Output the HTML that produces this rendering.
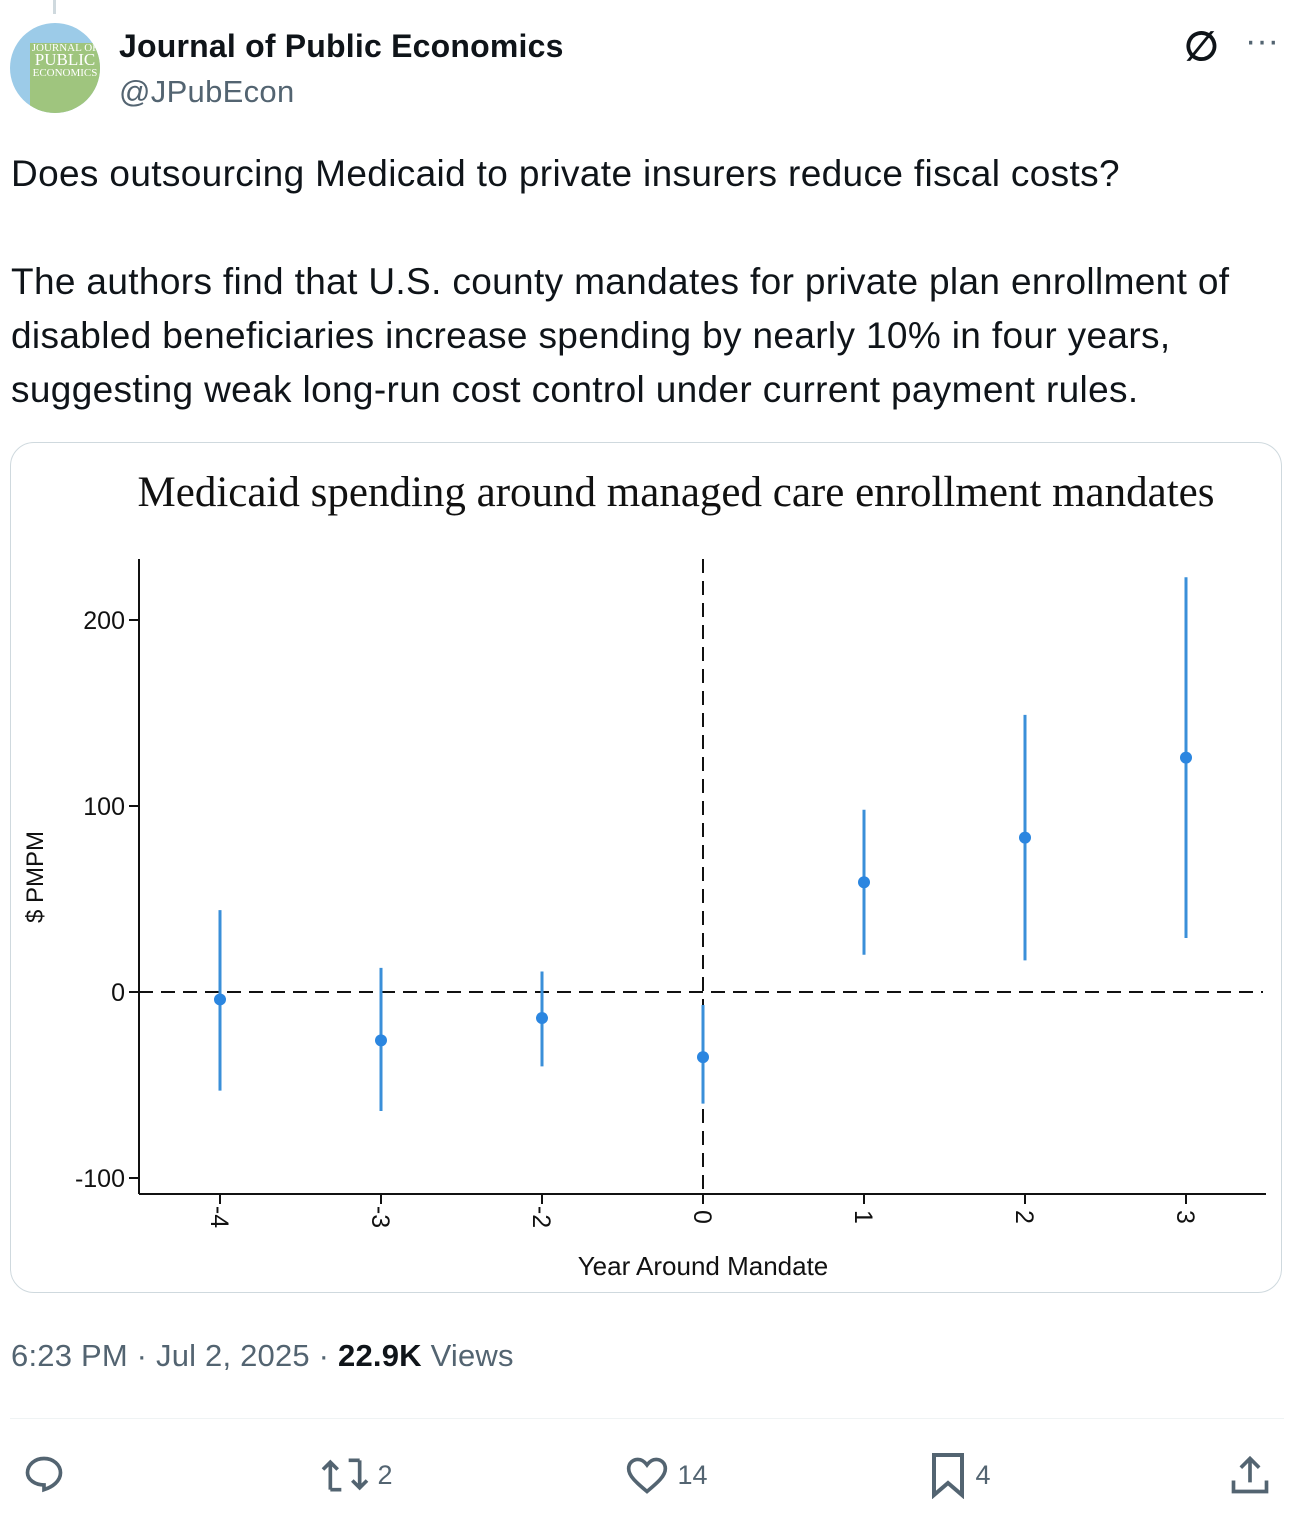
<!DOCTYPE html>
<html><head><meta charset="utf-8">
<style>
body{margin:0;width:1310px;height:1517px;background:#fff;font-family:"Liberation Sans",sans-serif;color:#0f1419;position:relative;overflow:hidden}
.abs{position:absolute}
.txt{font-size:37px;letter-spacing:0.35px;line-height:54px;left:11px;width:1300px;white-space:nowrap}
.act{position:absolute;top:1450px;height:50px;display:flex;align-items:center;color:#536471;font-size:27px}
</style></head><body>
<div class="abs" style="left:53px;top:0;width:3px;height:14px;background:#cfd9de"></div>
<div class="abs" style="left:10px;top:23px;width:90px;height:90px;border-radius:50%;overflow:hidden;background:#9ccbe8">
 <div style="position:absolute;left:20px;top:20px;width:70px;height:70px;background:#9fc57e;color:#fff;font-family:'Liberation Serif',serif;font-size:11px;line-height:11px;text-align:center">JOURNAL OF<br><span style="font-size:17px">PUBLIC</span><br>ECONOMICS</div>
</div>
<div class="abs" style="left:119px;top:28px;font-size:32px;font-weight:bold;letter-spacing:0.2px">Journal of Public Economics</div>
<div class="abs" style="left:119px;top:74px;font-size:31px;color:#536471;letter-spacing:0.3px">@JPubEcon</div>
<div class="abs" style="left:1184px;top:24px;font-size:40px;font-weight:bold">∅</div>
<div class="abs" style="left:1245px;top:22px;font-size:34px;color:#536471">···</div>
<div class="abs txt" style="top:147px">Does outsourcing Medicaid to private insurers reduce fiscal costs?</div>
<div class="abs txt" style="top:255px">The authors find that U.S. county mandates for private plan enrollment of<br>disabled beneficiaries increase spending by nearly 10% in four years,<br>suggesting weak long-run cost control under current payment rules.</div>
<div class="abs" style="left:10px;top:442px;width:1272px;height:851px;border:1px solid #cfd9de;border-radius:24px;box-sizing:border-box;overflow:hidden">
<svg id="chart" width="1272" height="851" viewBox="10 442 1272 851" style="display:block">
<text x="675" y="505" text-anchor="middle" font-family="Liberation Serif,serif" font-size="43" fill="#111">Medicaid spending around managed care enrollment mandates</text>
<text transform="translate(42,876) rotate(-90)" text-anchor="middle" font-size="24" fill="#111">$ PMPM</text>
<text x="702" y="1274" text-anchor="middle" font-size="26" fill="#111">Year Around Mandate</text>
</svg></div>
<script>
const categories=["-4","-3","-2","0","1","2","3"];
const estimates=[-4,-26,-14,-35,59,83,126];
const ciLow=[-53,-64,-40,-60,20,17,29];
const ciHigh=[44,13,11,-7,98,149,223];
const yTicks=[-100,0,100,200];
const svg=document.getElementById('chart');
const NS='http://www.w3.org/2000/svg';
const y=v=>991-v*1.86;
const x=i=>219+i*161;
function mk(t,a){const e=document.createElementNS(NS,t);for(const k in a)e.setAttribute(k,a[k]);svg.appendChild(e);return e;}
let e;
e=mk('line',{x1:138,y1:558,x2:138,y2:1193,stroke:'#111','stroke-width':2});


e=mk('line',{x1:138,y1:1193,x2:1265,y2:1193,stroke:'#111','stroke-width':2});


e=mk('line',{x1:138,y1:y(0),x2:1262,y2:y(0),stroke:'#111','stroke-width':2,'stroke-dasharray':'14,8'});


e=mk('line',{x1:x(3),y1:558,x2:x(3),y2:1193,stroke:'#111','stroke-width':2,'stroke-dasharray':'14,8'});


yTicks.forEach(t=>{
 e=mk('line',{x1:128,y1:y(t),x2:138,y2:y(t),stroke:'#111','stroke-width':2});
 
 
 e=mk('text',{x:124,y:y(t)+9,'text-anchor':'end','font-size':25,fill:'#111'});
 e.textContent=t;
 
 
});
categories.forEach((c,i)=>{
 e=mk('line',{x1:x(i),y1:1193,x2:x(i),y2:1203,stroke:'#111','stroke-width':2});
 
 
 e=mk('text',{transform:`translate(${x(i)-9},1216) rotate(90)`,'text-anchor':'middle','font-size':25,fill:'#111'});
 e.textContent=c;
 
 
 e=mk('line',{x1:x(i),y1:y(ciHigh[i]),x2:x(i),y2:y(ciLow[i]),stroke:'#3a8fd9','stroke-width':3});
 
 
 e=mk('circle',{cx:x(i),cy:y(estimates[i]),r:6,fill:'#2b86e0'});
 
 
});
</script>
<div class="abs" style="left:11px;top:1338px;font-size:31px;color:#536471;letter-spacing:0.2px">6:23 PM · Jul 2, 2025 · <b style="color:#0f1419">22.9K</b> Views</div>
<div class="abs" style="left:10px;top:1418px;width:1274px;height:1px;background:#eff3f4"></div>
<div class="act" style="left:22px"><svg width="44" height="44" viewBox="0 0 24 24"><path d="M12 3c5 0 9 3.4 9 7.8 0 4.6-4.4 7.7-9 9.2v-2.6C7 17.4 3 14.5 3 10.8 3 6.4 7 3 12 3z" fill="none" stroke="#536471" stroke-width="2"/></svg></div>
<div class="act" style="left:320px"><svg width="50" height="44" viewBox="0 0 26 24"><path d="M5 20V5M1 9l4-4 4 4M5 20h6M21 4v15M17 15l4 4 4-4M21 4h-6" fill="none" stroke="#536471" stroke-width="2"/></svg>&nbsp;2</div>
<div class="act" style="left:624px"><svg width="46" height="44" viewBox="0 0 24 24"><path d="M12 21C6 16 2 12.5 2 8.5 2 5.5 4.3 3.5 7 3.5c2 0 3.7 1.2 5 3 1.3-1.8 3-3 5-3 2.7 0 5 2 5 5 0 4-4 7.5-10 12.5z" fill="none" stroke="#536471" stroke-width="2"/></svg>&nbsp;14</div>
<div class="act" style="left:928px"><svg width="40" height="48" viewBox="0 0 20 24"><path d="M3 2h14v20l-7-6-7 6z" fill="none" stroke="#536471" stroke-width="2"/></svg>&nbsp;4</div>
<div class="act" style="left:1228px"><svg width="44" height="44" viewBox="0 0 24 24"><path d="M12 16V3M7 8l5-5 5 5M3 15v6h18v-6" fill="none" stroke="#536471" stroke-width="2"/></svg></div>
</body></html>
